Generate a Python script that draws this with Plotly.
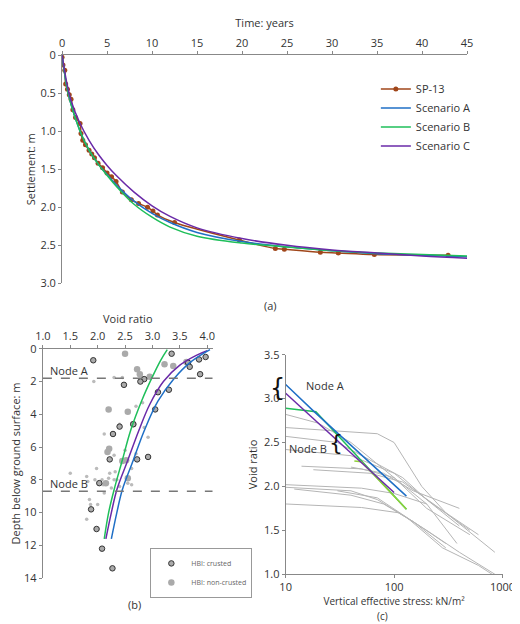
import plotly.graph_objects as go

# ---- Panel (a) data
sp13_t = [0,0.1,0.3,0.4,0.6,0.8,1,1.2,1.5,2,2.1,2.3,2.6,3,3.3,3.6,4,4.5,5,5.5,6,6.7,7.7,8.5,9.5,10.1,10.6,12.5,19.7,23.7,24.7,28.7,30.7,34.7,42.9]
sp13_s = [0.03,0.13,0.2,0.38,0.45,0.52,0.58,0.72,0.82,0.9,1.03,1.12,1.18,1.25,1.3,1.35,1.42,1.48,1.55,1.6,1.66,1.8,1.9,1.95,2.0,2.05,2.1,2.2,2.43,2.54,2.55,2.59,2.6,2.62,2.63]
scen_t = [0,0.5,1,2,3,4,5,6,8,10,12,15,20,25,30,35,40,45]
scenA_s = [0,0.4,0.65,1.0,1.25,1.43,1.57,1.7,1.92,2.08,2.2,2.33,2.45,2.52,2.57,2.61,2.63,2.65]
scenB_s = [0,0.4,0.65,1.0,1.25,1.43,1.58,1.72,1.96,2.13,2.26,2.38,2.47,2.52,2.57,2.6,2.62,2.64]
scenC_s = [0,0.35,0.6,0.9,1.12,1.3,1.45,1.58,1.8,1.98,2.12,2.27,2.41,2.5,2.56,2.6,2.64,2.67]

# ---- Panel (b) data
green_e = [2.12,2.2,2.3,2.45,2.6,2.8,3.0,3.15,3.27]
green_d = [11.6,10,8.6,6.8,5,3.2,1.7,0.7,0.05]
purple_e = [2.15,2.25,2.35,2.55,2.75,2.95,3.2,3.5,3.8,4.0]
purple_d = [11.6,10,8.6,6.8,5,3.4,2.0,1.0,0.4,0.12]
blue_e = [2.25,2.35,2.45,2.65,2.85,3.1,3.4,3.7,4.05]
blue_d = [11.6,10,8.6,6.8,5,3.2,1.8,0.8,0.05]
crust_e = [1.92,2.48,2.85,2.78,3.35,3.3,3.1,3.05,3.65,3.68,3.85,3.97,3.87,2.4,2.65,2.28,2.22,2.72,2.92,2.03,1.88,1.98,2.08,2.27]
crust_d = [0.7,2.2,1.85,2.0,0.3,2.5,2.65,3.7,0.85,1.1,0.65,0.5,1.55,4.75,4.6,5.2,6.75,6.75,6.6,8.2,9.8,11.0,12.2,13.4]
noncr_e = [2.5,3.22,2.72,2.77,3.38,2.95,2.2,2.55,2.65,3.62,2.18,2.21,2.45,2.55,2.15,2.52]
noncr_d = [0.3,0.95,1.25,1.55,1.05,1.7,3.7,3.85,4.6,0.8,6.3,6.1,6.85,7.9,8.2,6.8]
small_e = [1.93,2.3,2.45,2.7,2.82,2.85,2.92,2.4,2.12,2.3,2.5,2.7,2.62,1.98,2.22,2.32,2.2,2.35,1.5,1.8,1.82,1.95,2.05,2.1,2.3,2.4,2.55,1.85,1.87,1.8,2.0,2.12,2.08,2.62,2.25]
small_d = [2.0,1.75,1.75,3.5,3.3,4.8,5.4,4.6,5.2,6.5,6.2,6.4,7.3,7.3,7.6,7.5,7.9,8.0,7.6,7.8,8.1,8.0,8.2,8.3,8.0,8.4,8.2,9.2,9.5,10.4,9.5,8.8,8.0,8.3,8.5]

# ---- Panel (c) data
cblue_x = [10,18,130]; cblue_y = [3.16,2.86,1.89]
cpur_x = [10,100]; cpur_y = [3.06,1.93]
cgreen_x = [10,19,130]; cgreen_y = [2.89,2.85,1.74]
clime_x = [43,50,130]; clime_y = [2.29,2.28,1.74]
gray_curves = [
    ([10,20,40,100,200,500],[2.82,2.72,2.5,2.1,1.75,1.45]),
    ([10,40,70,100,180,300,850],[2.67,2.62,2.6,2.5,2.0,1.7,1.25]),
    ([10,30,60,120,200,500],[2.57,2.5,2.3,2.1,1.85,1.5]),
    ([10,40,100,200,400],[2.42,2.35,2.15,1.85,1.55]),
    ([14,50,100,200,380],[2.23,2.2,2.1,1.8,1.35]),
    ([18,60,120,300,600],[2.19,2.15,2.05,1.7,1.45]),
    ([10,50,100,200],[2.02,1.98,1.92,1.8]),
    ([10,40,70,150,300],[1.99,1.95,1.85,1.6,1.35]),
    ([12,40,80,150,300],[1.97,1.9,1.8,1.6,1.3]),
    ([10,50,110,200,400,850],[1.80,1.76,1.7,1.5,1.25,1.0]),
    ([30,70,130,280,600,800],[1.95,1.87,1.65,1.3,1.1,1.0]),
    ([40,80,150,400],[2.22,2.15,1.95,1.75]),
]

BROWN = "#a0461a"; BLUE = "#1f6fc6"; GREEN = "#1fbf5a"; PURPLE = "#6a2aa8"
fig = go.Figure()

fig.add_trace(go.Scatter(x=sp13_t, y=sp13_s, mode="lines+markers", name="SP-13", line=dict(color=BROWN, width=1.5, shape="spline"), marker=dict(size=5, color=BROWN), xaxis="x", yaxis="y", legend="legend"))
for nm, s, c in [("Scenario A", scenA_s, BLUE), ("Scenario B", scenB_s, GREEN), ("Scenario C", scenC_s, PURPLE)]:
    fig.add_trace(go.Scatter(x=scen_t, y=s, mode="lines", name=nm, line=dict(color=c, width=1.5, shape="spline"), xaxis="x", yaxis="y", legend="legend"))

fig.add_trace(go.Scatter(x=small_e, y=small_d, mode="markers", marker=dict(size=3.5, color="#bbbbbb"), showlegend=False, xaxis="x2", yaxis="y2"))
fig.add_trace(go.Scatter(x=noncr_e, y=noncr_d, mode="markers", name="HBI: non-crusted", marker=dict(size=6.5, color="#aaaaaa"), xaxis="x2", yaxis="y2", legend="legend2"))
fig.add_trace(go.Scatter(x=crust_e, y=crust_d, mode="markers", name="HBI: crusted", marker=dict(size=5.5, color="#aaaaaa", line=dict(color="#333333", width=1)), xaxis="x2", yaxis="y2", legend="legend2"))
for ex, dy, c in [(green_e, green_d, GREEN), (purple_e, purple_d, PURPLE), (blue_e, blue_d, BLUE)]:
    fig.add_trace(go.Scatter(x=ex, y=dy, mode="lines", line=dict(color=c, width=1.5, shape="spline"), showlegend=False, xaxis="x2", yaxis="y2"))
for yv in [1.8, 8.7]:
    fig.add_trace(go.Scatter(x=[1.0, 4.1], y=[yv, yv], mode="lines", line=dict(color="#777777", width=1.5, dash="dash"), showlegend=False, xaxis="x2", yaxis="y2"))

for gx, gy in gray_curves:
    fig.add_trace(go.Scatter(x=gx, y=gy, mode="lines", line=dict(color="#b5b5b5", width=1), showlegend=False, xaxis="x3", yaxis="y3"))
for cx, cy, c in [(cgreen_x, cgreen_y, GREEN), (clime_x, clime_y, "#8fd13a"), (cpur_x, cpur_y, PURPLE), (cblue_x, cblue_y, BLUE)]:
    fig.add_trace(go.Scatter(x=cx, y=cy, mode="lines", line=dict(color=c, width=1.5), showlegend=False, xaxis="x3", yaxis="y3"))

ax = dict(showgrid=False, zeroline=False, showline=True, linecolor="#888888", ticks="outside", ticklen=3, tickcolor="#888888", tickfont=dict(size=11, color="#333333"))
fig.update_layout(
    width=520, height=624, margin=dict(l=0, r=0, t=0, b=0), plot_bgcolor="white", paper_bgcolor="white",
    font=dict(family="Open Sans", color="#333333"),
    xaxis=dict(ax, domain=[48/520, 470/520], range=[0, 45], side="top", anchor="y", dtick=5, title=dict(text="Time: years", font=dict(size=11), standoff=4)),
    yaxis=dict(ax, domain=[1-274/624, 1-40/624], range=[3.0, 0], anchor="x", tickvals=[0,0.5,1,1.5,2,2.5,3], ticktext=["0","0.5","1.0","1.5","2.0","2.5","3.0"], title=dict(text="Settlement: m", font=dict(size=11), standoff=2)),
    xaxis2=dict(ax, domain=[28/520, 205/520], range=[1.0, 4.1], side="top", anchor="y2", dtick=0.5, tickformat=".1f", title=dict(text="Void ratio", font=dict(size=11), standoff=2)),
    yaxis2=dict(ax, domain=[1-576/624, 1-341/624], range=[14, 0], anchor="x2", dtick=2, title=dict(text="Depth below ground surface: m", font=dict(size=11), standoff=2)),
    xaxis3=dict(ax, type="log", domain=[281/520, 507/520], range=[1, 3], anchor="y3", tickvals=[10,100,1000], ticktext=["10","100","1000"], title=dict(text="Vertical effective stress: kN/m²", font=dict(size=10), standoff=1)),
    yaxis3=dict(ax, domain=[1-572/624, 1-347/624], range=[1.0, 3.5], anchor="x3", dtick=0.5, tickformat=".1f", title=dict(text="Void ratio", font=dict(size=11), standoff=4)),
    legend=dict(x=375/520, y=1-60/624, xanchor="left", yanchor="top", font=dict(size=11), bgcolor="rgba(0,0,0,0)", tracegroupgap=0),
    legend2=dict(x=140/520, y=1-545/624, xanchor="left", yanchor="top", font=dict(size=7, color="#666666"), bordercolor="#999999", borderwidth=1, bgcolor="white", traceorder="reversed"),
    annotations=[
        dict(text="(a)", x=265/520, y=1-297/624, xref="paper", yref="paper", showarrow=False, font=dict(size=11)),
        dict(text="(b)", x=115/520, y=1-613/624, xref="paper", yref="paper", showarrow=False, font=dict(size=11)),
        dict(text="(c)", x=390/520, y=0, yanchor="bottom", xref="paper", yref="paper", showarrow=False, font=dict(size=10)),
        dict(text="Node A", x=1.1, y=1.3, xref="x2", yref="y2", xanchor="left", showarrow=False, font=dict(size=11)),
        dict(text="Node B", x=1.1, y=8.2, xref="x2", yref="y2", xanchor="left", showarrow=False, font=dict(size=11)),
        dict(text="Node A", x=300/520, y=1-379/624, xref="paper", yref="paper", xanchor="left", showarrow=False, font=dict(size=11)),
        dict(text="Node B", x=282/520, y=1-453/624, xref="paper", yref="paper", xanchor="left", showarrow=False, font=dict(size=11)),
        dict(text="{", x=272/520, y=1-381/624, xref="paper", yref="paper", showarrow=False, font=dict(size=24, family="DejaVu Sans", color="#111111")),
        dict(text="{", x=333/520, y=1-452/624, xref="paper", yref="paper", showarrow=False, font=dict(size=22, family="DejaVu Sans", color="#111111")),
    ],
)
fig.write_html("out.html")
